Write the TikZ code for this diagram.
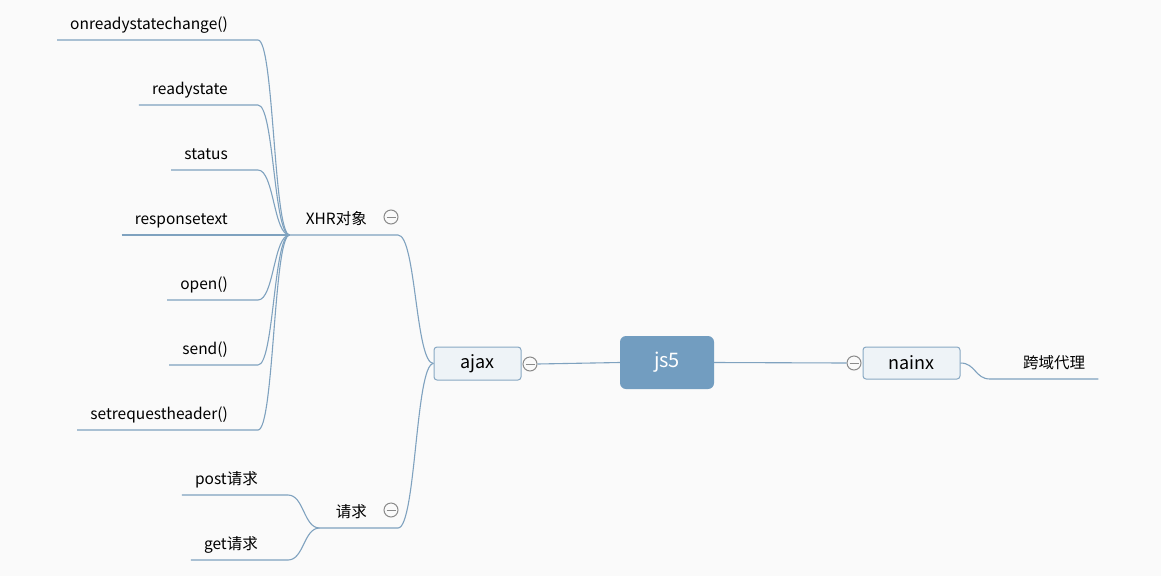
\documentclass[tikz,border=0pt]{standalone}
\usepackage{fontspec}
\setmainfont{Noto Sans CJK SC}
\usetikzlibrary{calc}
\definecolor{bgcol}{HTML}{FAFAFA}
\definecolor{linecol}{HTML}{7FA2BF}
\definecolor{rootcol}{HTML}{729DC0}
\definecolor{topicfill}{HTML}{EEF3F7}
\definecolor{topicline}{HTML}{88A8C3}
\definecolor{foldcol}{HTML}{8A8A8A}
\tikzstyle{root}=[rectangle,rounded corners=6pt,fill=rootcol,text=white,minimum width=94pt,minimum height=53pt,font=\fontsize{20pt}{24pt}\selectfont]
\tikzstyle{topic}=[rectangle,rounded corners=3pt,draw=topicline,fill=topicfill,line width=1pt,minimum width=87pt,minimum height=33pt,font=\fontsize{18pt}{21pt}\selectfont]
\tikzstyle{sub}=[inner xsep=16pt,inner ysep=7pt,text height=11pt,text depth=3pt,font=\fontsize{15.5pt}{18pt}\selectfont]
\tikzstyle{leaf}=[sub,inner xsep=13pt,anchor=south east,execute at end node=\hspace*{17pt}]
\tikzstyle{rleaf}=[sub,inner xsep=13pt,anchor=south west,execute at begin node=\hspace*{20pt}]
\tikzstyle{hub}=[sub,anchor=south east,execute at end node=\hspace*{15pt}]
\tikzstyle{fold}=[circle,draw=foldcol,fill=bgcol,line width=1pt,minimum size=14pt,inner sep=0pt,path picture={\draw[foldcol,line width=1pt] ([xshift=-4.5pt]path picture bounding box.center) -- ([xshift=4.5pt]path picture bounding box.center);}]
\tikzstyle{branch}=[draw=linecol,line width=1.1pt]

\begin{document}
\begin{tikzpicture}[x=1pt,y=-1pt]
	\useasboundingbox (0,0) rectangle (1161,576);
	\fill[bgcol] (0,0) rectangle (1161,576);

	% First we draw the main topics
	\node[root] (js5) at (667,362.5) {js5};
	\node[topic] (ajax) at (477.5,363.5) {ajax};
	\node[topic,minimum width=97pt,minimum height=32pt] (nainx) at (911.5,363) {nainx};
	\node[fold] (ajax-fold) at (530,364) {};
	\node[fold] (nainx-fold) at (854,363) {};

	% Then the sub topics and their leaves
	\node[hub] (xhr) at (398,235) {XHR对象};
	\node[hub] (req) at (398,528) {请求};
	\node[fold] (xhr-fold) at ($(xhr.south east)+(-7,-18)$) {};
	\node[fold] (req-fold) at ($(req.south east)+(-7,-18)$) {};

	\foreach \y/\name/\txt in {40/onready/onreadystatechange(), 105/rstate/readystate, 170/status/status,
							235/rtext/responsetext, 300/open/open(), 365/send/send(), 430/setheader/setrequestheader()}
	\node[leaf] (\name) at (258,\y) {\txt};

	\foreach \y/\name/\txt in {495/post/post请求, 560/get/get请求}
	\node[leaf] (\name) at (288,\y) {\txt};

	\node[rleaf] (proxy) at (990,379) {跨域代理};

	% Connect everything with branches
	\draw[branch] (ajax-fold.east) -- (js5.west);
	\draw[branch] (js5.east) -- (nainx-fold.west);

	\foreach \name in {onready,rstate,status,rtext,open,send,setheader}
	\draw[branch] (\name.south west) -- (\name.south east) .. controls +(16,0) and +(-16,0) .. (xhr.south west);

	\foreach \name in {post,get}
	\draw[branch] (\name.south west) -- (\name.south east) .. controls +(16,0) and +(-16,0) .. (req.south west);

	\foreach \name in {xhr,req}
	\draw[branch] (\name.south west) -- (\name.south east) .. controls +(18,0) and +(-18,0) .. (ajax.west);

	\draw[branch] (nainx.east) .. controls +(15,0) and +(-15,0) .. (proxy.south west) -- (proxy.south east);
\end{tikzpicture}
\end{document}
